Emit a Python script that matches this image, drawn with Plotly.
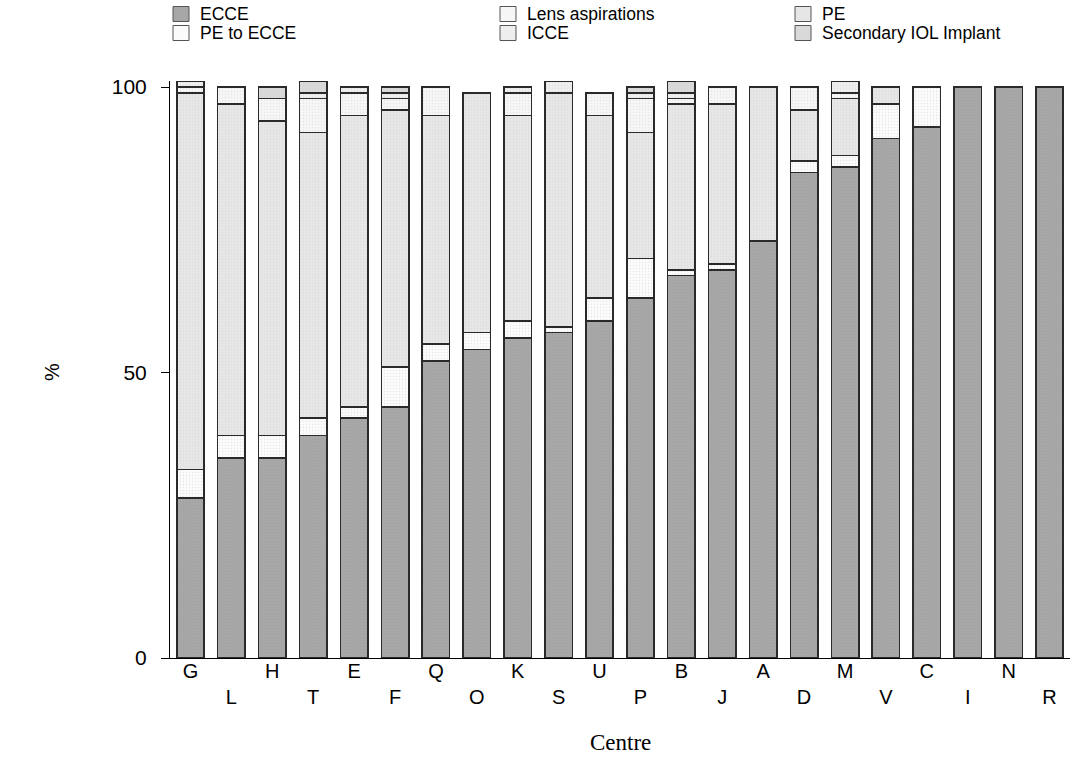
import plotly.graph_objects as go

centres = ["G", "L", "H", "T", "E", "F", "Q", "O", "K", "S", "U",
           "P", "B", "J", "A", "D", "M", "V", "C", "I", "N", "R"]
ecce = [28, 35, 35, 39, 42, 44, 52, 54, 56, 57, 59, 63, 67, 68, 73, 85, 86, 91, 93, 100, 100, 100]
pe_to_ecce = [5, 4, 4, 3, 2, 7, 3, 3, 3, 1, 4, 7, 1, 1, 0, 2, 2, 6, 7, 0, 0, 0]
pe = [66, 58, 55, 50, 51, 45, 40, 42, 36, 41, 32, 22, 29, 28, 27, 9, 10, 3, 0, 0, 0, 0]
lens_asp = [1, 3, 4, 6, 4, 2, 5, 0, 4, 0, 4, 6, 1, 3, 0, 4, 1, 0, 0, 0, 0, 0]
icce = [1, 0, 0, 1, 1, 1, 0, 0, 1, 2, 0, 1, 1, 0, 0, 0, 2, 0, 0, 0, 0, 0]
secondary = [0, 0, 2, 2, 0, 1, 0, 0, 0, 0, 0, 1, 2, 0, 0, 0, 0, 0, 0, 0, 0, 0]
y_ticks = [0, 50, 100]

series = [
    ("ECCE", ecce, "#a7a7a7"),
    ("PE to ECCE", pe_to_ecce, "#fbfbfb"),
    ("PE", pe, "#e6e6e6"),
    ("Lens aspirations", lens_asp, "#f6f6f6"),
    ("ICCE", icce, "#eeeeee"),
    ("Secondary IOL Implant", secondary, "#d9d9d9"),
]

W, H = 1074, 763
L, R, T, B = 170, 4, 81, 105
PW, PH = W - L - R, H - T - B


def px(x):
    return (x - L) / PW


def py(y):
    return (H - B - y) / PH


fig = go.Figure()
for name, vals, col in series:
    fig.add_trace(go.Bar(
        x=centres, y=[v if v else None for v in vals], name=name,
        marker=dict(color=col, line=dict(color="#2a2a2a", width=1.6),
                    pattern=dict(shape=".", size=3, solidity=0.15,
                                 fgcolor="#9a9a9a" if name == "ECCE" else "#d0d0d0")),
        showlegend=False,
    ))

ticktext = [c if i % 2 == 0 else "<br>" + c for i, c in enumerate(centres)]

fig.update_layout(
    width=W, height=H,
    margin=dict(l=L, r=R, t=T, b=B),
    barmode="stack", bargap=0.33,
    plot_bgcolor="white", paper_bgcolor="white",
    font=dict(family="Liberation Sans, Arial", size=20, color="black"),
    xaxis=dict(tickmode="array", tickvals=centres, ticktext=ticktext,
               showline=True, linecolor="black", linewidth=1,
               ticks="", showgrid=False, range=[-0.5, len(centres) - 0.5],
               ticklabelstandoff=-5),
    yaxis=dict(range=[0, 101.05], tickvals=y_ticks, showline=True,
               linecolor="black", linewidth=1, ticks="outside", ticklen=8,
               tickcolor="black", showgrid=False, zeroline=False,
               ticklabelstandoff=10, tickfont=dict(size=21)),
)

# axis titles
fig.add_annotation(text="Centre", xref="paper", yref="paper", x=0.5, y=py(742),
                   xanchor="center", yanchor="middle", showarrow=False,
                   font=dict(family="Liberation Serif, Times New Roman", size=23))
fig.add_annotation(text="%", xref="paper", yref="paper", x=px(52), y=py(372),
                   xanchor="center", yanchor="middle", showarrow=False, textangle=-90,
                   font=dict(size=20))

# legend (3 columns x 2 rows)
legend_layout = [
    ("ECCE", 173, 14), ("PE to ECCE", 173, 33),
    ("Lens aspirations", 500, 14), ("ICCE", 500, 33),
    ("PE", 795, 14), ("Secondary IOL Implant", 795, 33),
]
colors = {n: c for n, _, c in series}
for name, x0, yc in legend_layout:
    fig.add_shape(type="rect", xref="paper", yref="paper",
                  x0=px(x0), x1=px(x0 + 16), y0=py(yc + 7.5), y1=py(yc - 7.5),
                  fillcolor=colors[name], line=dict(color="#555555", width=1))
    fig.add_annotation(text=name, xref="paper", yref="paper", x=px(x0 + 25), y=py(yc),
                       xanchor="left", yanchor="middle", showarrow=False,
                       font=dict(size=17.5))

fig.write_html("out.html", config={"displayModeBar": False},
               post_script="document.body.style.margin='0px';")
